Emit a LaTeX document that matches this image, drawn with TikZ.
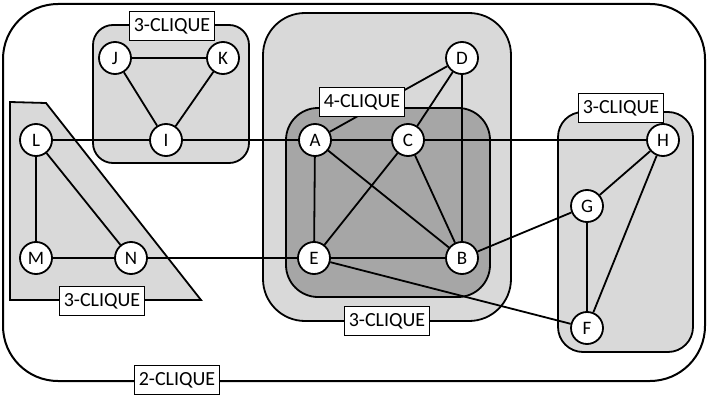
\documentclass[tikz,border=0pt]{standalone}
\usepackage{fontspec}
\setmainfont{Carlito}
\definecolor{lightg}{RGB}{217,217,217}
\definecolor{darkg}{RGB}{166,166,166}
\tikzset{
  vert/.style={circle,draw,line width=1.8pt,fill=white,minimum size=32pt,inner sep=0pt,font=\fontsize{19}{20}\selectfont},
  clabel/.style={rectangle,draw,line width=1pt,fill=white,minimum width=85pt,minimum height=29pt,inner sep=0pt,font=\fontsize{20}{22}\selectfont},
  grp/.style={draw,line width=1.8pt,fill=lightg},
  edge/.style={line width=1.8pt}
}
\begin{document}
\begin{tikzpicture}[x=1pt,y=-1pt]
\useasboundingbox (0,0) rectangle (710,396);
% outer 2-clique
\draw[line width=2pt,rounded corners=55pt] (3,4) rectangle (705,381);
% groups
\draw[grp,rounded corners=20pt] (93,25) rectangle (249,163);
\draw[grp] (10,102) -- (46,103) -- (201,300) -- (10,300) -- cycle;
\draw[grp,rounded corners=42pt] (263,13) rectangle (511,321);
\draw[grp,fill=darkg,rounded corners=32pt] (286,108) rectangle (490,297);
\draw[grp,rounded corners=25pt] (558,112) rectangle (693,352);
% vertices
\node[vert] (J) at (115,58) {J};
\node[vert] (K) at (223,58) {K};
\node[vert] (I) at (166,140) {I};
\node[vert] (L) at (36,140) {L};
\node[vert] (M) at (36,258) {M};
\node[vert] (N) at (131,258) {N};
\node[vert] (A) at (315,140) {A};
\node[vert] (C) at (408,140) {C};
\node[vert] (D) at (462,58) {D};
\node[vert] (E) at (314,258) {E};
\node[vert] (B) at (462,258) {B};
\node[vert] (H) at (663,140) {H};
\node[vert] (G) at (587,206) {G};
\node[vert] (F) at (587,328) {F};
% edges
\draw[edge] (J) -- (K) (J) -- (I) (K) -- (I);
\draw[edge] (L) -- (I) (I) -- (A) (A) -- (C) (C) -- (H);
\draw[edge] (L) -- (M) (M) -- (N) (L) -- (N) (N) -- (E);
\draw[edge] (A) -- (D) (C) -- (D) (D) -- (B);
\draw[edge] (A) -- (E) (A) -- (B) (C) -- (E) (C) -- (B) (E) -- (B);
\draw[edge] (B) -- (G) (E) -- (F);
\draw[edge] (G) -- (H) (G) -- (F) (H) -- (F);
% labels
\node[clabel] (l1) at (172,26) {3-CLIQUE};
\node[clabel] (l2) at (102,301) {3-CLIQUE};
\node[clabel] (l3) at (387,321) {3-CLIQUE};
\node[clabel] (l4) at (362,102) {4-CLIQUE};
\node[clabel] (l5) at (621,108) {3-CLIQUE};
\node[clabel] (l6) at (177,380) {2-CLIQUE};
\end{tikzpicture}
\end{document}
